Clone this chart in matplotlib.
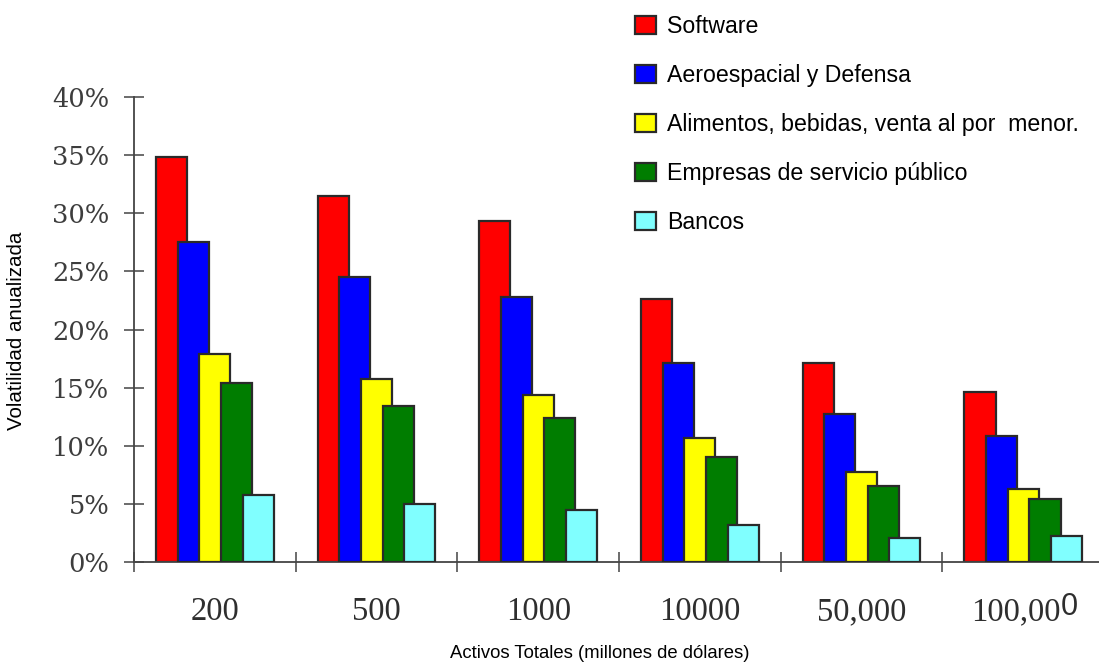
import matplotlib
matplotlib.use("Agg")
import matplotlib.pyplot as plt
import numpy as np
from matplotlib.transforms import ScaledTranslation

plt.rcParams["font.family"] = ["Liberation Sans", "DejaVu Sans"]

# Data: annualized volatility (%) by total assets (millions of dollars)
categories = ["200", "500", "1000", "10000", "50,000", "100,000"]
software = [34.8, 31.5, 29.3, 22.6, 17.1, 14.6]
aerospace = [27.5, 24.5, 22.8, 17.1, 12.7, 10.8]
food_retail = [17.9, 15.7, 14.4, 10.7, 7.7, 6.3]
utilities = [15.4, 13.4, 12.4, 9.0, 6.5, 5.4]
banks = [5.8, 5.0, 4.5, 3.2, 2.1, 2.2]

series_names = [
    "Software",
    "Aeroespacial y Defensa",
    "Alimentos, bebidas, venta al por  menor.",
    "Empresas de servicio público",
    "Bancos",
]
series_values = [software, aerospace, food_retail, utilities, banks]
series_colors = ["#ff0000", "#0000ff", "#ffff00", "#007d00", "#80ffff"]
y_ticks = [0, 5, 10, 15, 20, 25, 30, 35, 40]

W, H = 1099, 663
fig = plt.figure(figsize=(W / 100, H / 100), dpi=100)
ax = fig.add_axes([134 / W, 1 - 562 / H, 965 / W, 465 / H])

x = np.arange(len(categories))
step = 0.134
width = 0.192
for i, (vals, col, name) in enumerate(zip(series_values, series_colors, series_names)):
    ax.bar(x + (i - 2) * step, vals, width, color=col, edgecolor="#2a2a2a",
           linewidth=1.6, label=name, zorder=2 + i)

ax.set_xlim(-0.5, 5.468)
ax.set_ylim(0, 40)

for side in ("top", "right"):
    ax.spines[side].set_visible(False)
for side in ("left", "bottom"):
    ax.spines[side].set_color("#444444")
    ax.spines[side].set_linewidth(1.3)

ax.set_yticks(y_ticks)
ax.set_yticklabels([f"{v}%" for v in y_ticks], fontfamily="DejaVu Serif",
                   fontsize=18.5, color="#3d3d3d")
ax.tick_params(axis="y", direction="inout", length=13.7, width=1.1, color="#444444",
               pad=11)

ax.set_xticks(np.arange(-0.5, len(categories) - 1, 1.0))
ax.set_xticklabels([])
ax.tick_params(axis="x", direction="inout", length=14.4, width=1.1, color="#444444")

# Category labels under each group
xtrans = ax.get_xaxis_transform()
label_kw = dict(ha="center", va="center", fontsize=23.5, color="#2e2e2e",
                family="Liberation Serif")
for xi, lab in zip(x, categories):
    if xi == x[-1]:
        t = ax.text(xi, 0, lab[:-1],
                    transform=xtrans + ScaledTranslation(-7 / 100, -50 / 100, fig.dpi_scale_trans),
                    **label_kw)
        ax.annotate(lab[-1], xy=(1, 0.5), xycoords=t, xytext=(0, 3.6),
                    textcoords="offset points", ha="left", va="center",
                    fontsize=22, color="#2e2e2e", family="Liberation Sans")
    else:
        ax.text(xi, 0, lab,
                transform=xtrans + ScaledTranslation(0, -50 / 100, fig.dpi_scale_trans),
                **label_kw)

fig.text(600 / W, 1 - 653 / H, "Activos Totales (millones de dólares)",
         ha="center", va="center", fontsize=13.3, color="black")
fig.text(17 / W, 1 - 331 / H, "Volatilidad anualizada", rotation=90,
         ha="center", va="center", fontsize=14.8, color="black")

ax.legend(loc="upper left", bbox_to_anchor=(635 / W, 1 - 15 / H),
          bbox_transform=fig.transFigure, frameon=False, fontsize=16.7,
          handlelength=0.905, handleheight=0.776, handletextpad=0.48,
          labelspacing=1.12, borderpad=0, borderaxespad=0)

fig.savefig("out.png", dpi=100, facecolor="white")
